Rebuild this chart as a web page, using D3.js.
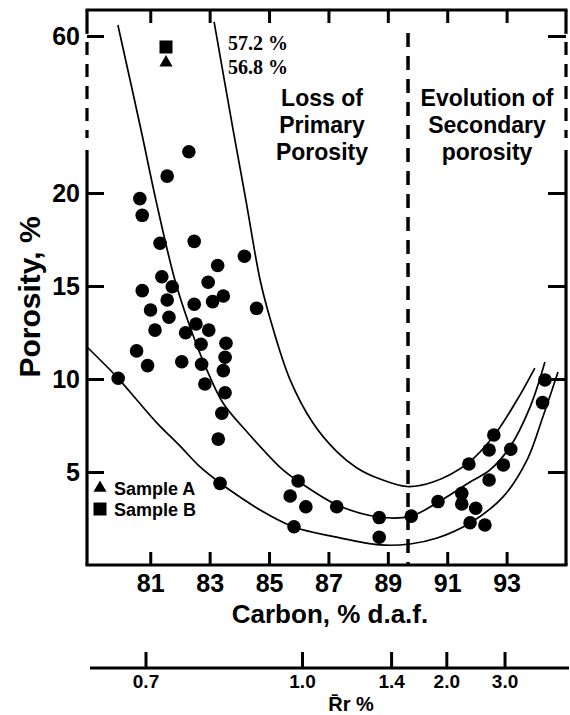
<!DOCTYPE html>
<html>
<head>
<meta charset="utf-8">
<script src="https://cdn.jsdelivr.net/npm/d3@7"></script>
<style>
	body { margin: 0; background: #fff; }
	svg { display: block; font-family: "Liberation Sans", Arial, sans-serif; font-weight: bold; }
</style>
</head>
<body>
<svg></svg>
<script>
// ---- data ----
var carbonTicks = [81, 83, 85, 87, 89, 91, 93];
var porosityTicks = [5, 10, 15, 20, 60];
var rrTicks = [0.7, 1.0, 1.4, 2.0, 3.0];
var rrCarbon = [80.84, 86.11, 89.11, 90.97, 92.93];   // carbon value under each Rr tick

var pointCarbon = [82.30, 81.57, 80.65, 80.73, 81.33, 82.48, 84.17, 83.27, 81.39, 82.95,
	80.73, 81.74, 81.57, 83.46, 83.10, 82.48, 84.58, 81.01, 81.63, 82.54,
	82.97, 81.16, 82.19, 82.71, 83.55, 80.54, 83.52, 80.91, 82.06, 82.73,
	83.46, 79.92, 82.84, 83.52, 83.41, 83.29, 83.35,
	85.98, 85.71, 86.24, 87.28, 85.84, 88.71, 88.71, 89.79, 90.69, 91.49,
	91.49, 91.96, 91.77, 92.27, 91.73, 92.41, 92.57, 93.14, 92.89, 92.41,
	94.29, 94.21];
var pointPorosity = [30.5, 24.3, 19.7, 18.8, 17.3, 17.4, 16.6, 16.1, 15.5, 15.2,
	14.75, 14.96, 14.25, 14.46, 14.16, 14.02, 13.8, 13.71, 13.32, 12.96,
	12.63, 12.63, 12.49, 11.87, 11.92, 11.51, 11.17, 10.72, 10.93, 10.79,
	10.45, 10.04, 9.73, 9.26, 8.16, 6.77, 4.39,
	4.52, 3.71, 3.13, 3.13, 2.06, 2.55, 1.49, 2.63, 3.41, 3.85,
	3.28, 3.05, 2.27, 2.15, 5.43, 6.18, 6.99, 6.22, 5.38, 4.57,
	9.95, 8.73];

var sampleA = {c: 81.53, p: 53.2};   // triangle
var sampleB = {c: 81.53, p: 57.2};   // square

var upperCurveC = [83.15, 83.79, 84.22, 84.70, 85.03, 85.71, 86.48, 87.29, 87.96, 88.74, 89.64, 90.52, 91.70, 92.54, 93.35, 93.95];
var upperCurveP = [63.6, 36.1, 19.62, 15.32, 13.28, 9.95, 7.63, 6.08, 5.22, 4.62, 4.22, 4.46, 5.48, 6.88, 8.87, 10.59];
var middleCurveC = [79.91, 80.69, 81.19, 81.83, 82.34, 82.91, 83.45, 84.29, 85.47, 85.97, 87.29, 88.70, 89.78, 90.76, 91.77, 92.44, 93.11, 93.79, 94.29];
var middleCurveP = [62.8, 36.05, 19.62, 15.32, 12.80, 10.48, 8.71, 7.10, 5.11, 4.52, 3.23, 2.58, 2.63, 3.44, 4.46, 5.11, 6.34, 8.49, 10.91];
var lowerCurveC = [78.87, 79.91, 80.55, 81.23, 82.00, 82.68, 83.35, 84.12, 84.70, 85.84, 87.22, 88.74, 89.75, 90.66, 91.77, 92.88, 93.69, 94.22, 94.73];
var lowerCurveP = [11.72, 10.05, 8.87, 7.63, 6.40, 5.27, 4.41, 3.55, 2.96, 2.04, 1.51, 1.08, 1.13, 1.45, 2.26, 3.66, 5.65, 7.96, 10.38];

var boundaryCarbon = 89.68;
var axisBreak = [58.5, 33];   // porosity span drawn dashed on the side axes

function pairs(cs, ps) {
	return cs.map(function(c, i) { return {c: c, p: ps[i]}; });
}

function render() {
	var W = 570, H = 715;
	var margins = {T: 10, B: 150, L: 87, R: 4};
	var bottom = H - margins.B, right = W - margins.R;

	var svg = d3.select('svg').attr('width', W).attr('height', H);

	var x = d3.scaleLinear().domain([78.87, 95.0]).range([margins.L, right]);
	// broken porosity axis: linear 0-20, compressed 20-60
	var y = d3.scaleLinear().domain([0, 20, 60]).range([bottom, 193, 36]);

	// frame
	var frame = svg.append('g').attr('stroke', '#000').attr('stroke-width', 3.2).attr('fill', 'none');
	frame.append('line').attr('x1', margins.L - 1.5).attr('x2', right + 1.5).attr('y1', margins.T).attr('y2', margins.T);
	frame.append('line').attr('x1', margins.L - 1.5).attr('x2', right + 1.5).attr('y1', bottom).attr('y2', bottom);
	[margins.L, right].forEach(function(xx) {
		frame.append('line').attr('x1', xx).attr('x2', xx).attr('y1', margins.T).attr('y2', y(axisBreak[0]) - 8);
		frame.append('line').attr('x1', xx).attr('x2', xx).attr('y1', y(axisBreak[0])).attr('y2', y(axisBreak[1]) - 4)
			.attr('stroke-dasharray', '13,9');
		frame.append('line').attr('x1', xx).attr('x2', xx).attr('y1', y(axisBreak[1]) + 8).attr('y2', bottom);
	});

	var tickStyle = function(g, size) {
		g.select('.domain').remove();
		g.selectAll('.tick line').attr('stroke-width', 3);
		g.selectAll('.tick text').attr('font-size', size).attr('fill', '#000');
	};

	svg.append('g')
		.attr('transform', 'translate(0,' + bottom + ')')
		.call(d3.axisBottom(x).tickValues(carbonTicks).tickSizeInner(-13).tickSizeOuter(0).tickPadding(9))
		.call(tickStyle, 25);
	svg.append('g')
		.attr('transform', 'translate(0,' + margins.T + ')')
		.call(d3.axisTop(x).tickValues(carbonTicks).tickSizeInner(-13).tickSizeOuter(0).tickFormat(''))
		.call(tickStyle, 0);
	svg.append('g')
		.attr('transform', 'translate(' + margins.L + ',0)')
		.call(d3.axisLeft(y).tickValues(porosityTicks).tickSizeInner(-17).tickSizeOuter(0).tickPadding(7))
		.call(tickStyle, 25);
	svg.append('g')
		.attr('transform', 'translate(' + right + ',0)')
		.call(d3.axisRight(y).tickValues(porosityTicks).tickSizeInner(-18).tickSizeOuter(0).tickFormat(''))
		.call(tickStyle, 0);

	// vitrinite reflectance axis
	var rr = d3.scaleLinear().domain(rrTicks).range(rrCarbon.map(x));
	var rrY = 668;
	svg.append('line').attr('x1', 90).attr('x2', 569).attr('y1', rrY).attr('y2', rrY)
		.attr('stroke', '#000').attr('stroke-width', 3);
	svg.append('g')
		.attr('transform', 'translate(0,' + rrY + ')')
		.call(d3.axisBottom(rr).tickValues(rrTicks).tickSizeInner(-16).tickSizeOuter(0).tickPadding(7).tickFormat(d3.format('.1f')))
		.call(tickStyle, 19);

	// boundary between primary / secondary porosity
	svg.append('line')
		.attr('x1', x(boundaryCarbon)).attr('x2', x(boundaryCarbon))
		.attr('y1', 33).attr('y2', bottom)
		.attr('stroke', '#000').attr('stroke-width', 3.5).attr('stroke-dasharray', '14,9');

	// trend curves
	var line = d3.line()
		.x(function(d) { return x(d.c); })
		.y(function(d) { return y(d.p); })
		.curve(d3.curveCatmullRom.alpha(0.5));
	[pairs(upperCurveC, upperCurveP), pairs(middleCurveC, middleCurveP), pairs(lowerCurveC, lowerCurveP)]
		.forEach(function(curve) {
			svg.append('path').attr('d', line(curve))
				.attr('fill', 'none').attr('stroke', '#000').attr('stroke-width', 1.7);
		});

	// samples
	svg.append('g').selectAll('circle')
		.data(pairs(pointCarbon, pointPorosity))
		.enter().append('circle')
		.attr('cx', function(d) { return x(d.c); })
		.attr('cy', function(d) { return y(d.p); })
		.attr('r', 6.8)
		.attr('fill', '#000');

	svg.append('path')
		.attr('d', d3.symbol(d3.symbolTriangle, 75)())
		.attr('transform', 'translate(' + x(sampleA.c) + ',' + y(sampleA.p) + ')');
	svg.append('path')
		.attr('d', d3.symbol(d3.symbolSquare, 169)())
		.attr('transform', 'translate(' + x(sampleB.c) + ',' + y(sampleB.p) + ')');

	// legend
	svg.append('path').attr('d', d3.symbol(d3.symbolTriangle, 75)()).attr('transform', 'translate(100,488)');
	svg.append('path').attr('d', d3.symbol(d3.symbolSquare, 169)()).attr('transform', 'translate(100,509)');
	svg.append('text').attr('x', 114).attr('y', 495).attr('font-size', 18).text('Sample A');
	svg.append('text').attr('x', 114).attr('y', 516).attr('font-size', 18).text('Sample B');

	// annotations
	var serif = svg.append('g').attr('font-family', '"Liberation Serif", "Times New Roman", serif').attr('font-size', 20);
	serif.append('text').attr('x', 228).attr('y', 50).text('57.2 %');
	serif.append('text').attr('x', 228).attr('y', 74).text('56.8 %');

	var block = function(cx, lines) {
		var t = svg.append('text').attr('text-anchor', 'middle').attr('font-size', 23);
		lines.forEach(function(s, i) {
			t.append('tspan').attr('x', cx).attr('y', 105.5 + i * 27).text(s);
		});
	};
	block(322, ['Loss of', 'Primary', 'Porosity']);
	block(487, ['Evolution of', 'Secondary', 'porosity']);

	// axis titles
	svg.append('text').attr('text-anchor', 'middle').attr('font-size', 30)
		.attr('transform', 'translate(40,297) rotate(-90)').text('Porosity, %');
	svg.append('text').attr('text-anchor', 'middle').attr('font-size', 26)
		.attr('x', 330).attr('y', 623).text('Carbon, % d.a.f.');
	svg.append('text').attr('text-anchor', 'middle').attr('font-size', 20)
		.attr('x', 351).attr('y', 711).text('R\u0304r %');
}

render();
</script>
</body>
</html>
